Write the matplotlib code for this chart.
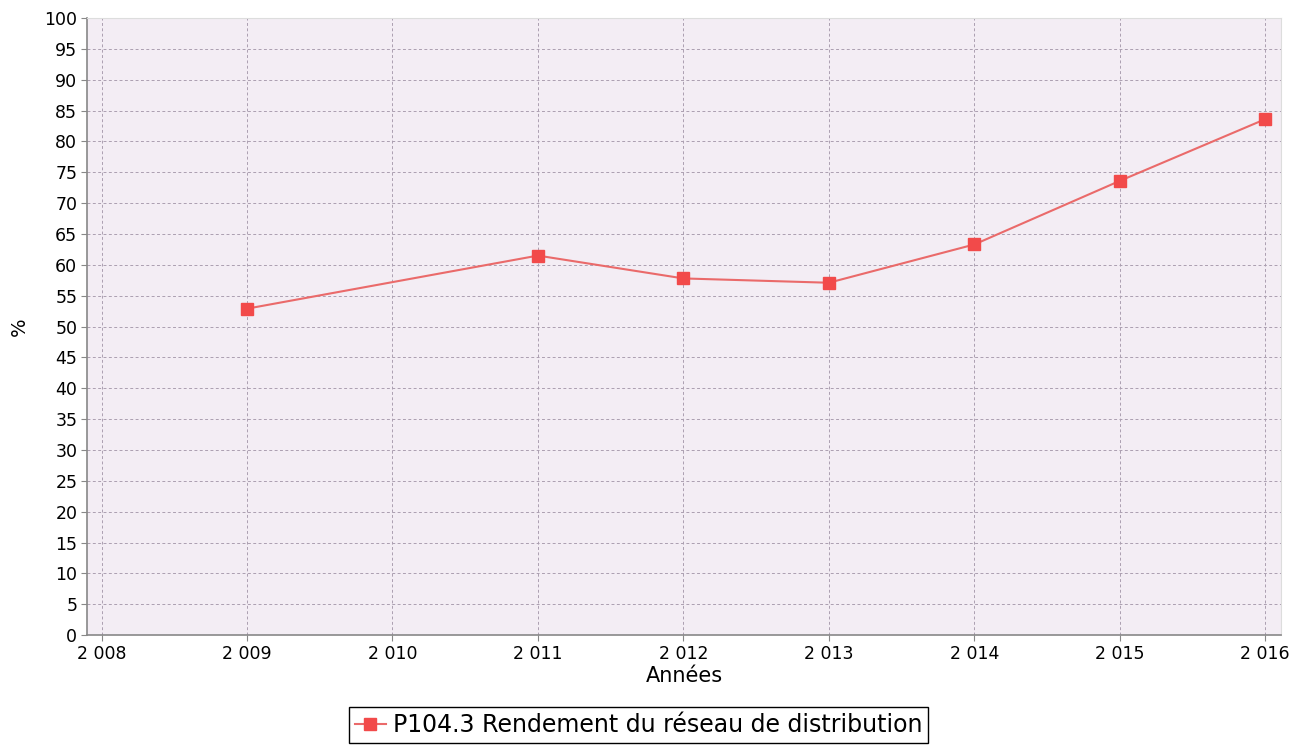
import matplotlib.pyplot as plt
from matplotlib.ticker import FuncFormatter, MultipleLocator

years = [2009, 2011, 2012, 2013, 2014, 2015, 2016]
rendement = [52.9, 61.5, 57.8, 57.1, 63.3, 73.6, 83.6]
label = 'P104.3 Rendement du réseau de distribution'

fig = plt.figure(figsize=(13.06, 7.49), dpi=100)
ax = fig.add_axes([0.0666, 0.152, 0.9144, 0.824])
ax.set_facecolor('#f3edf4')

ax.plot(years, rendement, color='#ea6a6a', linewidth=1.5,
        marker='s', markersize=9, markerfacecolor='#f24a4a',
        markeredgecolor='#f24a4a', label=label, zorder=3)

ax.set_xlim(2007.9, 2016.11)
ax.set_ylim(0, 100)
ax.xaxis.set_major_locator(MultipleLocator(1))
ax.yaxis.set_major_locator(MultipleLocator(5))
ax.xaxis.set_major_formatter(FuncFormatter(lambda v, p: '{:,}'.format(int(round(v))).replace(',', ' ')))

ax.grid(True, color='#ab9fb0', linestyle=(0, (3, 2.5)), linewidth=0.7)
ax.tick_params(labelsize=12.5, color='#888888', length=4, pad=3)

for s in ['left', 'bottom']:
    ax.spines[s].set_color('#888888')
    ax.spines[s].set_linewidth(1.2)
for s in ['top', 'right']:
    ax.spines[s].set_color('#dddddd')

ax.set_xlabel('Années', fontsize=15, labelpad=2)
ax.set_ylabel('%', fontsize=14, labelpad=11)

leg = fig.legend(loc='lower center', bbox_to_anchor=(0.489, -0.008), fontsize=17,
                 fancybox=False, edgecolor='black', framealpha=1,
                 handlelength=1.3, handletextpad=0.3, borderpad=0.25)
leg.get_frame().set_linewidth(1.0)

plt.savefig('out.png', dpi=100)
